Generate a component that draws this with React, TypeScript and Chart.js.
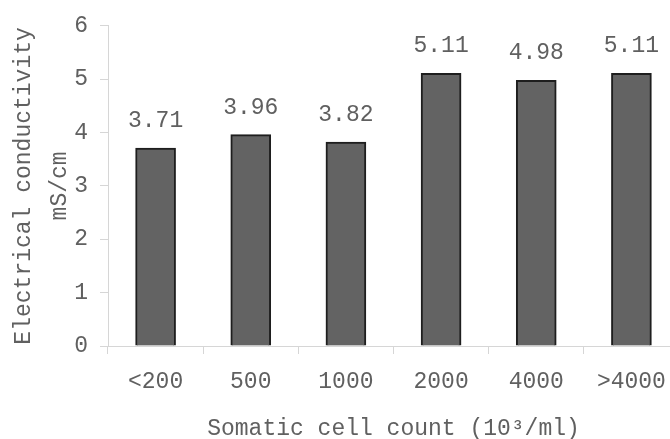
import React, { useEffect, useRef } from "react";
import { Chart, registerables } from "chart.js";

Chart.register(...registerables);

const categories = ["<200", "500", "1000", "2000", "4000", ">4000"];
const conductivity = [3.71, 3.96, 3.82, 5.11, 4.98, 5.11];
const yTicks = [0, 1, 2, 3, 4, 5, 6];

const FONT = "'Liberation Mono', 'Courier New', monospace";
const TEXT = "#606060";
const AXIS = "#d6d6d6";

const valueLabels = {
  id: "valueLabels",
  afterDatasetsDraw(chart: any) {
    const ctx = chart.ctx;
    const meta = chart.getDatasetMeta(0);
    ctx.save();
    ctx.font = `23px ${FONT}`;
    ctx.fillStyle = TEXT;
    ctx.textAlign = "center";
    ctx.textBaseline = "middle";
    meta.data.forEach((bar: any, i: number) => {
      const v = chart.data.datasets[0].data[i] as number;
      ctx.fillText(v.toFixed(2), bar.x, bar.y - 27);
    });
    ctx.restore();
  },
};

export default function App() {
  const ref = useRef<HTMLCanvasElement>(null);
  useEffect(() => {
    if (!ref.current) return;
    const chart = new Chart(ref.current, {
      type: "bar",
      data: {
        labels: categories,
        datasets: [
          {
            data: conductivity,
            backgroundColor: "#636363",
            borderColor: "#1e1e1e",
            borderWidth: 2,
            barThickness: 40,
          },
        ],
      },
      options: {
        responsive: false,
        animation: false,
        layout: { padding: { top: 23, right: 11, left: 0, bottom: 0 } },
        plugins: { legend: { display: false }, tooltip: { enabled: false } },
        scales: {
          x: {
            grid: {
              display: true,
              drawOnChartArea: false,
              drawTicks: true,
              tickLength: 8,
              color: AXIS,
            },
            border: { display: true, color: AXIS, width: 1 },
            ticks: {
              font: { family: FONT, size: 23 },
              color: TEXT,
              padding: 14,
              maxRotation: 0,
              autoSkip: false,
            },
            title: {
              display: true,
              text: "Somatic cell count (10³/ml)",
              font: { family: FONT, size: 23 },
              color: TEXT,
              padding: { top: 8, bottom: -4 },
            },
            afterFit(scale: any) {
              scale.height = 93;
            },
          },
          y: {
            min: 0,
            max: 6,
            afterBuildTicks(scale: any) {
              scale.ticks = yTicks.map((v) => ({ value: v }));
            },
            grid: {
              display: true,
              drawOnChartArea: false,
              drawTicks: true,
              tickLength: 8,
              color: AXIS,
            },
            border: { display: true, color: AXIS, width: 1 },
            ticks: {
              font: { family: FONT, size: 23 },
              color: TEXT,
              padding: 12,
            },
            title: {
              display: true,
              text: ["Electrical conductivity", "mS/cm"],
              font: { family: FONT, size: 23, lineHeight: 1.55 },
              color: TEXT,
              padding: { top: 6, bottom: 0 },
            },
            afterFit(scale: any) {
              scale.width = 108;
            },
          },
        },
      },
      plugins: [valueLabels],
    });
    return () => chart.destroy();
  }, []);
  return (
    <div
      style={{
        position: "fixed",
        left: 0,
        top: 0,
        width: 670,
        height: 439,
        overflow: "hidden",
        background: "#fff",
      }}
    >
      <canvas ref={ref} width={690} height={439} style={{ display: "block" }} />
    </div>
  );
}
